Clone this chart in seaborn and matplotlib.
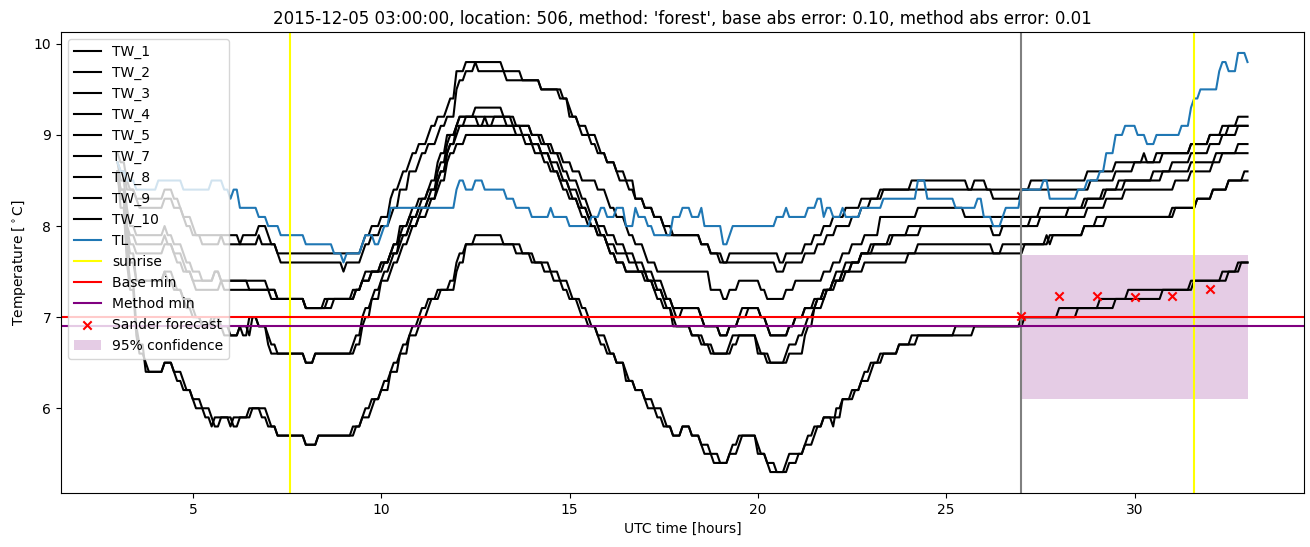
import numpy as np
import matplotlib
matplotlib.use("Agg")
import matplotlib.pyplot as plt
import seaborn as sns

# ---- data: (hour where level starts, temperature level) ----
TW_1 = [(3.0,8.8),(3.08,8.7),(3.17,8.6),(3.25,8.5),(3.33,8.4),(3.42,8.3),(4.25,8.4),(4.5,8.3),(4.62,8.2),(4.75,8.1),(4.92,8.0),(5.08,7.9),(5.67,8.0),(5.75,7.9),(6.25,7.8),(6.33,7.9),(6.67,8.0),(6.92,7.9),(7.08,7.8),(7.17,7.7),(9.42,7.8),(9.58,7.9),(9.75,8.0),(9.92,8.1),(10.17,8.2),(10.25,8.3),(10.33,8.4),(10.42,8.5),(10.58,8.6),(10.67,8.7),(10.83,8.8),(11.0,8.9),(11.17,9.0),(11.33,9.1),(11.5,9.2),(11.67,9.3),(11.83,9.4),(11.92,9.6),(12.0,9.7),(12.17,9.8),(13.25,9.7),(13.67,9.6),(14.17,9.5),(14.75,9.4),(14.92,9.3),(15.0,9.2),(15.17,9.1),(15.33,9.0),(15.58,8.9),(15.75,8.8),(15.92,8.7),(16.17,8.6),(16.33,8.5),(16.58,8.4),(16.67,8.3),(16.92,8.2),(17.17,8.1),(17.42,8.0),(17.58,7.9),(18.42,7.8),(18.67,7.7),(19.08,7.6),(19.17,7.7),(20.58,7.6),(20.67,7.7),(21.17,7.8),(21.5,7.9),(21.75,8.0),(22.0,8.1),(22.33,8.2),(22.67,8.3),(23.25,8.4),(24.08,8.5),(25.58,8.4),(25.67,8.5),(26.08,8.4),(27.17,8.5),(28.75,8.6),(29.5,8.7),(30.25,8.8),(30.33,8.7),(30.58,8.8),(31.42,8.9),(31.92,9.0),(32.33,9.1),(32.75,9.2)]
TW_2 = [(3.0,8.7),(3.08,8.6),(3.17,8.5),(3.25,8.4),(3.42,8.3),(3.58,8.2),(4.25,8.3),(4.5,8.2),(4.67,8.1),(4.83,8.0),(5.0,7.9),(5.17,7.8),(5.67,7.9),(5.83,7.8),(6.67,7.9),(6.83,7.8),(7.17,7.7),(7.33,7.6),(9.0,7.5),(9.08,7.6),(9.42,7.7),(9.58,7.8),(9.75,7.9),(9.92,8.0),(10.17,8.1),(10.33,8.2),(10.42,8.3),(10.5,8.4),(10.67,8.5),(10.75,8.6),(10.92,8.7),(11.08,8.8),(11.25,8.9),(11.42,9.0),(11.58,9.1),(11.75,9.2),(11.92,9.4),(12.0,9.5),(12.08,9.6),(12.25,9.7),(12.5,9.8),(12.58,9.7),(13.33,9.6),(14.25,9.5),(14.83,9.4),(15.0,9.3),(15.08,9.2),(15.25,9.1),(15.42,9.0),(15.67,8.9),(15.83,8.8),(16.0,8.7),(16.25,8.6),(16.42,8.5),(16.67,8.4),(16.75,8.3),(17.0,8.2),(17.25,8.1),(17.5,8.0),(17.67,7.9),(18.5,7.8),(18.75,7.7),(18.92,7.6),(20.5,7.5),(20.67,7.6),(21.25,7.7),(21.58,7.8),(21.83,7.9),(22.08,8.0),(22.42,8.1),(22.75,8.2),(23.0,8.3),(23.33,8.4),(26.17,8.3),(27.0,8.4),(28.83,8.5),(29.5,8.6),(30.0,8.7),(30.67,8.8),(31.42,8.9),(32.0,9.0),(32.42,9.1)]
TW_3 = [(3.0,8.7),(3.08,8.5),(3.17,8.3),(3.25,8.2),(3.33,8.0),(3.42,7.9),(4.17,8.0),(4.33,7.9),(4.5,7.8),(4.67,7.7),(4.83,7.6),(5.0,7.5),(5.17,7.4),(5.58,7.5),(5.75,7.4),(6.42,7.3),(6.5,7.4),(6.92,7.3),(7.08,7.2),(8.0,7.1),(8.5,7.2),(9.33,7.3),(9.5,7.4),(9.67,7.5),(10.08,7.6),(10.25,7.7),(10.33,7.8),(10.42,7.9),(10.5,8.0),(10.67,8.1),(10.83,8.2),(11.0,8.3),(11.17,8.4),(11.33,8.5),(11.42,8.6),(11.5,8.7),(11.58,8.8),(11.67,8.9),(11.75,9.0),(11.92,9.1),(12.08,9.2),(12.42,9.3),(13.25,9.2),(13.58,9.1),(14.0,9.0),(14.33,8.9),(14.58,8.8),(14.83,8.7),(15.08,8.6),(15.33,8.5),(15.67,8.4),(15.92,8.3),(16.08,8.2),(16.25,8.1),(16.42,8.0),(16.58,7.9),(16.75,7.8),(16.92,7.7),(17.08,7.6),(17.33,7.5),(18.67,7.4),(18.75,7.3),(19.08,7.2),(19.17,7.3),(19.5,7.4),(20.08,7.3),(20.25,7.2),(20.75,7.3),(20.92,7.4),(21.67,7.5),(22.0,7.6),(22.25,7.7),(22.5,7.8),(22.83,7.9),(23.17,8.0),(23.25,8.1),(24.17,8.2),(25.5,8.1),(27.45,8.2),(28.6,8.3),(29.1,8.4),(29.58,8.5),(29.92,8.6),(30.0,8.5),(30.72,8.6),(31.45,8.7),(32.15,8.8),(32.67,8.9)]
TW_4 = [(3.0,8.6),(3.08,8.4),(3.17,8.2),(3.25,8.0),(3.33,7.9),(3.42,7.8),(4.17,7.9),(4.33,7.8),(4.5,7.7),(4.67,7.6),(4.83,7.5),(5.0,7.4),(5.58,7.5),(5.75,7.4),(6.5,7.3),(7.17,7.2),(7.92,7.1),(8.58,7.2),(9.25,7.3),(9.42,7.4),(9.58,7.5),(9.92,7.6),(10.17,7.7),(10.33,7.8),(10.42,7.9),(10.58,8.0),(10.75,8.1),(10.92,8.2),(11.08,8.3),(11.25,8.4),(11.42,8.5),(11.5,8.6),(11.58,8.7),(11.67,8.8),(11.75,8.9),(11.83,9.0),(11.92,9.1),(12.08,9.2),(13.42,9.1),(13.75,9.0),(14.0,8.9),(14.25,8.8),(14.5,8.7),(14.67,8.6),(14.83,8.5),(15.0,8.4),(15.17,8.3),(15.33,8.2),(15.5,8.1),(15.67,8.0),(15.92,7.9),(16.17,7.8),(16.42,7.7),(16.75,7.6),(17.0,7.5),(17.25,7.4),(17.42,7.3),(17.58,7.2),(17.75,7.1),(18.5,7.0),(18.58,6.9),(19.0,6.8),(19.17,6.9),(19.5,7.0),(19.58,7.1),(20.08,7.0),(20.17,6.9),(20.33,6.8),(20.83,6.9),(20.92,7.0),(21.17,7.1),(21.5,7.2),(21.75,7.3),(22.0,7.4),(22.25,7.5),(22.42,7.6),(22.67,7.7),(23.0,7.8),(23.5,7.9),(24.0,8.0),(26.25,7.9),(26.42,8.0),(27.17,8.1),(28.17,8.2),(28.67,8.3),(29.17,8.4),(29.67,8.5),(30.42,8.6),(30.92,8.7),(31.42,8.8),(31.92,8.9),(32.33,9.0),(32.75,9.1)]
TW_5 = [(3.0,8.6),(3.08,8.4),(3.17,8.2),(3.25,8.0),(3.33,7.8),(3.5,7.7),(4.25,7.8),(4.42,7.7),(4.58,7.6),(4.75,7.5),(4.92,7.4),(5.08,7.3),(5.67,7.4),(5.83,7.3),(7.25,7.2),(8.0,7.1),(8.67,7.2),(9.33,7.3),(9.5,7.4),(9.67,7.5),(10.0,7.6),(10.25,7.7),(10.42,7.8),(10.5,7.9),(10.67,8.0),(10.83,8.1),(11.0,8.2),(11.17,8.3),(11.33,8.4),(11.5,8.5),(11.58,8.6),(11.67,8.7),(11.75,8.8),(11.83,8.9),(11.92,9.0),(12.0,9.1),(12.17,9.2),(12.58,9.1),(12.67,9.2),(12.83,9.1),(12.92,9.2),(13.33,9.1),(13.58,9.0),(13.83,8.9),(14.08,8.8),(14.33,8.7),(14.5,8.6),(14.67,8.5),(14.83,8.4),(15.0,8.3),(15.17,8.2),(15.33,8.1),(15.5,8.0),(15.75,7.9),(16.0,7.8),(16.25,7.7),(16.58,7.6),(16.83,7.5),(17.08,7.4),(17.33,7.3),(17.5,7.2),(17.67,7.1),(17.83,7.0),(18.0,7.1),(18.42,7.0),(18.58,6.9),(19.0,6.8),(19.25,6.9),(19.5,7.0),(19.67,7.1),(20.08,7.0),(20.25,6.9),(20.33,6.8),(20.83,6.9),(21.0,7.0),(21.25,7.1),(21.58,7.2),(21.83,7.3),(22.08,7.4),(22.33,7.5),(22.5,7.6),(22.75,7.7),(23.08,7.8),(23.58,7.9),(24.33,8.0),(27.5,8.1),(28.75,8.2),(29.17,8.3),(29.67,8.4),(31.08,8.5),(31.42,8.6),(32.08,8.7),(32.33,8.8)]
TW_7 = [(3.0,8.6),(3.08,8.3),(3.17,8.1),(3.25,7.9),(3.33,7.7),(3.42,7.5),(3.5,7.4),(4.17,7.5),(4.33,7.4),(4.5,7.3),(4.67,7.2),(4.83,7.1),(5.0,7.0),(5.17,6.9),(5.5,7.0),(5.67,6.9),(5.83,6.8),(6.17,6.9),(6.33,6.8),(6.5,7.0),(6.67,6.9),(6.92,6.8),(7.0,6.7),(7.08,6.6),(7.92,6.5),(8.17,6.6),(9.25,6.7),(9.33,6.8),(9.42,6.9),(9.5,7.0),(9.58,7.1),(9.67,7.2),(9.83,7.3),(9.92,7.4),(10.08,7.5),(10.25,7.6),(10.33,7.7),(10.5,7.8),(10.58,7.9),(10.75,8.0),(10.92,8.1),(11.08,8.2),(11.25,8.3),(11.42,8.4),(11.5,8.5),(11.58,8.6),(11.67,8.7),(11.75,8.8),(11.83,8.9),(11.92,9.0),(12.08,9.1),(14.0,9.0),(14.25,8.9),(14.5,8.8),(14.67,8.7),(14.83,8.6),(15.0,8.5),(15.17,8.4),(15.33,8.3),(15.5,8.2),(15.58,8.1),(15.67,8.0),(15.83,7.9),(15.92,7.8),(16.08,7.7),(16.25,7.6),(16.42,7.5),(17.0,7.4),(17.17,7.3),(17.33,7.2),(17.5,7.1),(17.67,7.0),(17.75,6.9),(18.17,6.8),(18.5,6.7),(18.75,6.6),(19.25,6.7),(19.33,6.8),(19.92,6.7),(20.0,6.6),(20.25,6.5),(20.75,6.6),(20.83,6.7),(20.92,6.6),(21.0,6.7),(21.08,6.8),(21.25,6.9),(21.33,7.0),(21.42,7.1),(21.58,7.2),(21.75,7.3),(21.92,7.4),(22.08,7.5),(22.33,7.6),(22.67,7.7),(24.17,7.8),(26.17,7.7),(26.5,7.8),(27.7,7.9),(28.6,8.0),(29.0,8.1),(31.0,8.2),(31.6,8.3),(32.05,8.4),(32.5,8.5),(32.85,8.6)]
TW_8 = [(3.0,8.6),(3.08,8.3),(3.17,8.0),(3.25,7.8),(3.33,7.6),(3.42,7.5),(3.5,7.4),(4.25,7.5),(4.42,7.4),(4.58,7.3),(4.75,7.2),(4.92,7.1),(5.08,7.0),(5.25,6.9),(5.58,7.0),(5.75,6.9),(5.92,6.8),(6.25,6.9),(6.42,6.8),(6.58,7.0),(6.75,6.9),(6.92,6.8),(7.08,6.7),(7.17,6.6),(8.0,6.5),(8.25,6.6),(9.33,6.7),(9.42,6.8),(9.5,6.9),(9.58,7.0),(9.67,7.1),(9.75,7.2),(9.92,7.3),(10.0,7.4),(10.17,7.5),(10.33,7.6),(10.42,7.7),(10.58,7.8),(10.67,7.9),(10.83,8.0),(11.0,8.1),(11.17,8.2),(11.33,8.3),(11.5,8.4),(11.58,8.5),(11.67,8.6),(11.75,8.7),(11.83,8.8),(11.92,8.9),(12.17,9.0),(13.92,8.9),(14.17,8.8),(14.42,8.7),(14.58,8.6),(14.75,8.5),(14.92,8.4),(15.08,8.3),(15.25,8.2),(15.42,8.1),(15.58,8.0),(15.75,7.9),(15.92,7.8),(16.08,7.7),(16.25,7.6),(16.5,7.5),(17.08,7.4),(17.25,7.3),(17.42,7.2),(17.58,7.1),(17.75,7.0),(17.83,6.9),(18.25,6.8),(18.58,6.7),(18.83,6.6),(19.33,6.7),(19.42,6.8),(20.0,6.7),(20.08,6.6),(20.33,6.5),(20.83,6.6),(21.17,6.7),(21.25,6.8),(21.33,6.9),(21.42,7.0),(21.5,7.1),(21.67,7.2),(21.83,7.3),(22.0,7.4),(22.17,7.5),(22.83,7.6),(24.0,7.7),(27.05,7.8),(27.6,7.9),(27.67,7.8),(27.83,7.9),(28.65,8.0),(29.2,8.1),(31.05,8.2),(31.6,8.3),(32.05,8.4),(32.5,8.5)]
TW_9 = [(3.0,8.6),(3.08,8.3),(3.17,8.0),(3.25,7.7),(3.33,7.4),(3.42,7.1),(3.5,6.9),(3.58,6.7),(3.67,6.5),(3.75,6.4),(4.17,6.5),(4.42,6.4),(4.58,6.3),(4.75,6.2),(4.92,6.1),(5.08,6.0),(5.33,5.9),(5.5,5.8),(5.58,5.9),(6.0,5.8),(6.08,5.9),(6.5,6.0),(6.83,5.9),(7.0,5.8),(7.17,5.7),(7.92,5.6),(8.33,5.7),(9.25,5.8),(9.42,5.9),(9.58,6.0),(9.75,6.1),(9.92,6.2),(10.08,6.3),(10.17,6.4),(10.33,6.5),(10.42,6.6),(10.58,6.7),(10.67,6.8),(10.83,6.9),(11.0,7.0),(11.08,7.1),(11.25,7.2),(11.5,7.3),(11.83,7.4),(11.92,7.5),(12.0,7.6),(12.08,7.7),(12.17,7.8),(12.5,7.9),(13.25,7.8),(13.67,7.7),(14.0,7.6),(14.33,7.5),(14.58,7.4),(14.83,7.3),(15.0,7.2),(15.25,7.1),(15.33,7.0),(15.5,6.9),(15.67,6.8),(15.83,6.7),(16.0,6.6),(16.17,6.5),(16.42,6.4),(16.5,6.3),(16.67,6.2),(16.92,6.1),(17.08,6.0),(17.33,5.9),(17.5,5.8),(17.67,5.7),(17.92,5.8),(18.17,5.7),(18.42,5.6),(18.58,5.5),(18.83,5.4),(19.17,5.5),(19.33,5.6),(19.5,5.7),(19.92,5.6),(20.0,5.5),(20.17,5.4),(20.33,5.3),(20.75,5.4),(20.83,5.5),(20.92,5.4),(21.0,5.5),(21.17,5.6),(21.33,5.7),(21.5,5.8),(21.67,5.9),(22.0,5.8),(22.08,6.0),(22.17,6.1),(22.5,6.2),(22.67,6.3),(22.83,6.4),(23.0,6.5),(23.25,6.6),(23.67,6.7),(24.08,6.8),(25.25,6.9),(27.0,7.0),(27.92,7.1),(29.08,7.2),(29.83,7.3),(31.5,7.4),(32.33,7.5),(32.67,7.6)]
TW_10 = [(3.0,8.6),(3.08,8.2),(3.17,7.9),(3.25,7.6),(3.33,7.3),(3.42,7.0),(3.5,6.8),(3.58,6.6),(3.67,6.5),(3.83,6.4),(4.25,6.5),(4.42,6.4),(4.67,6.3),(4.83,6.2),(5.0,6.1),(5.17,6.0),(5.42,5.9),(5.58,5.8),(5.67,5.9),(6.08,5.8),(6.17,5.9),(6.58,6.0),(6.92,5.9),(7.08,5.8),(7.25,5.7),(8.0,5.6),(8.33,5.7),(9.33,5.8),(9.5,5.9),(9.67,6.0),(9.83,6.1),(10.0,6.2),(10.17,6.3),(10.25,6.4),(10.42,6.5),(10.5,6.6),(10.67,6.7),(10.75,6.8),(10.92,6.9),(11.08,7.0),(11.17,7.1),(11.33,7.2),(11.58,7.3),(11.92,7.4),(12.0,7.5),(12.08,7.6),(12.17,7.7),(12.25,7.8),(13.58,7.7),(14.08,7.6),(14.42,7.5),(14.67,7.4),(14.92,7.3),(15.08,7.2),(15.33,7.1),(15.42,7.0),(15.58,6.9),(15.75,6.8),(15.92,6.7),(16.08,6.6),(16.25,6.5),(16.5,6.4),(16.58,6.3),(16.75,6.2),(17.0,6.1),(17.17,6.0),(17.42,5.9),(17.58,5.8),(17.75,5.7),(18.0,5.8),(18.25,5.7),(18.5,5.6),(18.67,5.5),(18.92,5.4),(19.25,5.5),(19.42,5.6),(19.58,5.7),(20.0,5.6),(20.08,5.5),(20.25,5.4),(20.42,5.3),(20.83,5.4),(21.08,5.5),(21.25,5.6),(21.42,5.7),(21.58,5.8),(21.75,5.9),(22.17,6.0),(22.25,6.1),(22.58,6.2),(22.75,6.3),(22.92,6.4),(23.08,6.5),(23.33,6.6),(23.75,6.7),(24.17,6.8),(25.75,6.9),(27.08,7.0),(28.42,7.1),(29.42,7.2),(30.67,7.3),(31.58,7.4),(32.42,7.5),(32.83,7.6)]
TL = [(3.0,8.7),(3.08,8.6),(3.25,8.5),(3.5,8.4),(4.08,8.5),(4.75,8.4),(5.5,8.5),(5.83,8.4),(5.92,8.3),(6.08,8.4),(6.17,8.2),(6.75,8.1),(6.92,8.0),(7.33,7.9),(7.42,8.0),(7.5,7.9),(7.92,8.0),(8.0,7.8),(8.42,7.9),(8.5,7.8),(8.67,7.7),(9.0,7.6),(9.08,7.7),(9.42,7.8),(9.58,7.9),(9.67,7.8),(9.75,7.9),(9.83,7.8),(9.92,7.9),(10.08,8.0),(10.17,8.1),(10.25,8.2),(11.17,8.3),(11.25,8.2),(11.92,8.3),(12.0,8.4),(12.08,8.5),(12.17,8.4),(12.5,8.5),(12.75,8.4),(13.33,8.3),(13.58,8.2),(13.92,8.1),(14.5,8.2),(14.58,8.1),(15.0,8.0),(15.58,8.1),(15.83,8.2),(16.0,8.1),(16.25,8.2),(16.42,8.0),(16.75,8.2),(16.83,8.1),(17.08,8.0),(17.17,7.9),(17.67,8.2),(17.75,8.1),(18.0,8.2),(18.17,8.1),(18.5,8.2),(18.58,8.0),(19.08,7.8),(19.17,7.9),(19.33,8.0),(19.42,7.9),(19.5,8.0),(20.5,8.1),(20.75,8.2),(20.83,8.1),(21.33,8.2),(21.58,8.3),(21.67,8.2),(21.75,8.1),(21.83,8.2),(21.92,8.1),(22.25,8.2),(22.33,8.1),(22.67,8.2),(23.33,8.3),(23.42,8.2),(23.5,8.3),(24.25,8.5),(24.42,8.3),(25.25,8.2),(25.83,8.3),(25.92,8.2),(26.0,8.1),(26.17,8.0),(26.5,8.1),(26.58,8.2),(26.92,8.3),(27.0,8.4),(27.42,8.5),(27.5,8.4),(27.58,8.5),(27.67,8.3),(28.42,8.4),(28.67,8.5),(29.08,8.6),(29.17,8.7),(29.25,8.8),(29.42,8.9),(29.5,9.0),(29.67,9.1),(30.08,9.0),(30.33,8.9),(30.58,9.0),(31.17,9.1),(31.42,9.2),(31.5,9.3),(31.58,9.4),(31.67,9.5),(32.17,9.6),(32.25,9.7),(32.33,9.8),(32.42,9.7),(32.67,9.8),(32.75,9.9),(32.92,9.8)]

series_names = ["TW_1", "TW_2", "TW_3", "TW_4", "TW_5", "TW_7", "TW_8", "TW_9", "TW_10"]
series_data = [TW_1, TW_2, TW_3, TW_4, TW_5, TW_7, TW_8, TW_9, TW_10]

sunrise_hours = [7.57, 31.57]
forecast_start = 27.0
base_min = 7.0
method_min = 6.9
sander_hours = [27, 28, 29, 30, 31, 32]
sander_values = [7.01, 7.23, 7.23, 7.22, 7.23, 7.31]
conf_hours = [27.0, 33.0]
conf_low = 6.1
conf_high = 7.68

title = ("2015-12-05 03:00:00, location: 506, method: 'forest', "
         "base abs error: 0.10, method abs error: 0.01")

# 5-minute sampling grid, from 03:00 to 33:00
t_grid = 3.0 + np.arange(361) / 12.0


def sample(changes):
    starts = np.array([c[0] for c in changes])
    levels = np.array([c[1] for c in changes])
    idx = np.searchsorted(starts, t_grid + 1e-6, side="right") - 1
    return levels[idx]


fig, ax = plt.subplots(figsize=(13.1, 5.47), dpi=100)
fig.subplots_adjust(left=61 / 1310, right=1304 / 1310, top=1 - 32 / 547, bottom=1 - 493 / 547)

for name, ch in zip(series_names, series_data):
    sns.lineplot(x=t_grid, y=sample(ch), color="black", linewidth=1.5, label=name, ax=ax)
sns.lineplot(x=t_grid, y=sample(TL), color="#1f77b4", linewidth=1.5, label="TL", ax=ax)

ax.axvline(sunrise_hours[0], color="yellow", linewidth=1.5, label="sunrise")
ax.axvline(sunrise_hours[1], color="yellow", linewidth=1.5)
ax.axvline(forecast_start, color="gray", linewidth=1.5)
ax.axhline(base_min, color="red", linewidth=1.5, label="Base min")
ax.axhline(method_min, color="purple", linewidth=1.5, label="Method min")
sns.scatterplot(x=sander_hours, y=sander_values, marker="x", color="red", s=36,
                linewidth=1.5, label="Sander forecast", ax=ax, zorder=3)
ax.fill_between(conf_hours, conf_low, conf_high, color="purple", alpha=0.2,
                linewidth=0, label="95% confidence")

ax.set_xticks([5, 10, 15, 20, 25, 30])
ax.set_yticks([6, 7, 8, 9, 10])
ax.set_xlabel("UTC time [hours]")
ax.set_ylabel(r"Temperature [$^\circ$C]")
ax.set_title(title)
ax.legend(loc="upper left")

fig.savefig("out.png", dpi=100)
